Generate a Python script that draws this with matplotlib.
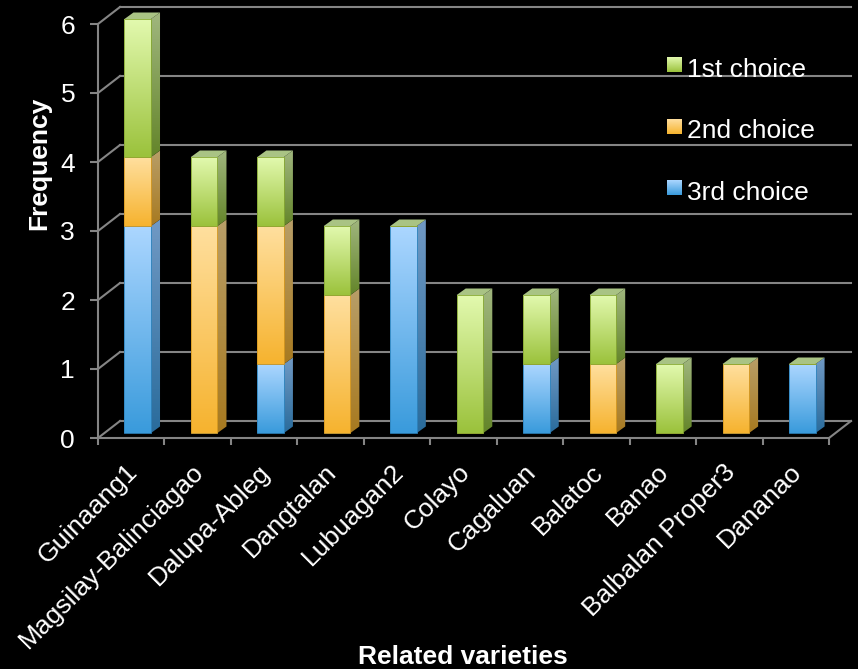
import matplotlib
matplotlib.use("Agg")
import matplotlib.pyplot as plt
import numpy as np
from matplotlib.image import BboxImage
from matplotlib.legend_handler import HandlerBase
from matplotlib.patches import Polygon, Patch
from matplotlib.transforms import Affine2D, Bbox, TransformedBbox

varieties = ["Guinaang1", "Magsilay-Balinciagao", "Dalupa-Ableg", "Dangtalan",
             "Lubuagan2", "Colayo", "Cagaluan", "Balatoc", "Banao",
             "Balbalan Proper3", "Dananao"]
third_choice = [3, 0, 1, 0, 3, 0, 1, 0, 0, 0, 1]
second_choice = [1, 3, 2, 2, 0, 0, 0, 1, 0, 1, 0]
first_choice = [2, 1, 1, 1, 0, 2, 1, 1, 1, 0, 0]
yticks = [0, 1, 2, 3, 4, 5, 6]

plt.rcParams['font.family'] = ['Liberation Sans', 'DejaVu Sans']

GRAY = "#858585"
BAR_WIDTH = 0.4

# (front top, front bottom, side top, side bottom, edge)
BLUE = ("#abd6ff", "#3a9bdc", "#7099c4", "#2a6c9c", "#2f86c0")
ORANGE = ("#ffdf9e", "#f6b32f", "#b89e68", "#a87a20", "#d89a20")
GREEN = ("#e2f9ae", "#9bc23c", "#a0b67e", "#64852a", "#86a832")
TOP_FACE = "#a9c384"

# depth of the 3d look, in data units
UX, UY = 1 / 66.45, 1 / 69
WALL_DX, WALL_DY = 22 * UX, 17 * UY
BAR_DX, BAR_DY = 6.5 * UX, 5 * UY
SIDE_DX, SIDE_DY = 9 * UX, 6.5 * UY


def gradient(top, bottom):
    c0 = np.array(matplotlib.colors.to_rgb(top))
    c1 = np.array(matplotlib.colors.to_rgb(bottom))
    t = np.linspace(0, 1, 64)[:, None, None]
    return c0 * (1 - t) + c1 * t


def draw_segment(ax, rect, colors):
    x0 = rect.get_x()
    x1 = x0 + rect.get_width()
    y0 = rect.get_y()
    y1 = y0 + rect.get_height()
    ax.imshow(gradient(colors[0], colors[1]), extent=(x0, x1, y0, y1), aspect='auto',
              interpolation='bilinear', clip_on=False, zorder=3)
    # right-hand side of the block
    side = Polygon([(x1, y0), (x1 + SIDE_DX, y0 + SIDE_DY), (x1 + SIDE_DX, y1 + SIDE_DY), (x1, y1)],
                   closed=True, facecolor='none', edgecolor='none', transform=ax.transData)
    ax.add_patch(side)
    side_img = ax.imshow(gradient(colors[2], colors[3]),
                         extent=(x1, x1 + SIDE_DX, y0, y1 + SIDE_DY), aspect='auto',
                         interpolation='bilinear', zorder=3)
    side_img.set_clip_path(side)
    side_img.set_clip_box(fig.bbox)


class GradientSquare(HandlerBase):
    def create_artists(self, legend, orig_handle, xdescent, ydescent, width, height, fontsize, trans):
        box = Bbox.from_bounds(width - 10.4, height / 2 - 3.2, 10.4, 10.4)
        img = BboxImage(TransformedBbox(box, trans), interpolation='bilinear')
        img.set_data(gradient(*orig_handle.colors))
        return [img]


class LegendKey(Patch):
    def __init__(self, colors, label):
        super().__init__(label=label)
        self.colors = colors


fig = plt.figure(figsize=(8.58, 6.69), dpi=100, facecolor='black')
ax = fig.add_axes([98 / 858, (669 - 438) / 669, 731 / 858, 414 / 669])
ax.set_facecolor('none')

n = len(varieties)
x = np.arange(n) + 0.5

# back wall, left wall and floor lines
for v in yticks:
    ax.plot([WALL_DX, n + WALL_DX], [v + WALL_DY, v + WALL_DY], color=GRAY, lw=1.5, clip_on=False, zorder=1)
    ax.plot([0, WALL_DX], [v, v + WALL_DY], color=GRAY, lw=1.5, clip_on=False, zorder=1)
ax.plot([n, n + WALL_DX], [0, WALL_DY], color=GRAY, lw=1.5, clip_on=False, zorder=1)

# stacked bars, bottom series first
bottoms = np.zeros(n)
for values, colors in [(third_choice, BLUE), (second_choice, ORANGE), (first_choice, GREEN)]:
    values = np.array(values, dtype=float)
    bars = ax.bar(x + BAR_DX, values, BAR_WIDTH, bottom=bottoms + BAR_DY, facecolor='none',
                  edgecolor=colors[4], linewidth=0.6, zorder=4, clip_on=False)
    for rect, val in zip(bars, values):
        if val > 0:
            draw_segment(ax, rect, colors)
    bottoms += values

# every bar is capped by the (empty) top series
for cx, total in zip(x, bottoms):
    x0 = cx + BAR_DX - BAR_WIDTH / 2
    x1 = x0 + BAR_WIDTH
    y1 = total + BAR_DY
    ax.add_patch(Polygon([(x0, y1), (x1, y1), (x1 + SIDE_DX, y1 + SIDE_DY), (x0 + SIDE_DX, y1 + SIDE_DY)],
                         closed=True, facecolor=TOP_FACE, edgecolor='none', clip_on=False, zorder=3))

ax.set_xlim(0, n)
ax.set_ylim(0, 6)

for name in ['top', 'right']:
    ax.spines[name].set_visible(False)
for name in ['left', 'bottom']:
    ax.spines[name].set_color(GRAY)
    ax.spines[name].set_linewidth(1.5)

ax.set_yticks(yticks)
ax.tick_params(axis='y', colors=GRAY, length=5.5, width=1.5, pad=11, labelsize=19, labelcolor='white')
ax.set_xticks(np.arange(n + 1))
ax.set_xticklabels([])
ax.tick_params(axis='x', which='major', colors=GRAY, length=5, width=1.5)
ax.set_xticks(x, minor=True)
ax.set_xticklabels(varieties, minor=True, rotation=45, ha='right', rotation_mode='anchor',
                   fontsize=19, color='white')
ax.tick_params(axis='x', which='minor', length=0, pad=15)
# nudge the slanted names so they end under each category
for lab in ax.get_xticklabels(minor=True):
    lab.set_transform(lab.get_transform() + Affine2D().translate(-6, -1))

ax.set_ylabel("Frequency", fontsize=19, fontweight='bold', color='white', va='center')
ax.yaxis.set_label_coords((39 - 98) / 731, (438 - 163) / 414)
ax.set_xlabel("Related varieties", fontsize=19, fontweight='bold', color='white', va='center')
ax.xaxis.set_label_coords((463 - 98) / 731, (438 - 657) / 414)

handles = [LegendKey(GREEN[:2], "1st choice"), LegendKey(ORANGE[:2], "2nd choice"), LegendKey(BLUE[:2], "3rd choice")]
leg = ax.legend(handles=handles, handler_map={LegendKey: GradientSquare()}, frameon=False,
                loc='upper left', bbox_to_anchor=((655 - 98) / 731, (438 - 58) / 414),
                fontsize=19, labelspacing=1.42, handlelength=1.0, handletextpad=0.23,
                borderpad=0, borderaxespad=0)
for t in leg.get_texts():
    t.set_color('white')
leg.set_zorder(5)

fig.savefig("out.png", dpi=100, facecolor='black')
